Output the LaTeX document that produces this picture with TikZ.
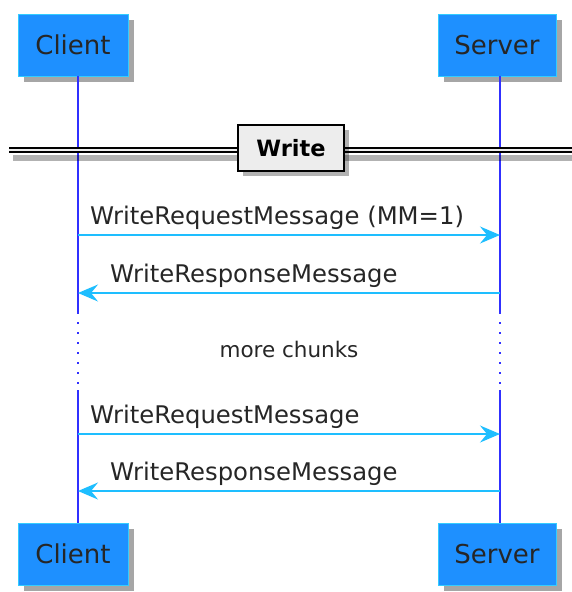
\documentclass[tikz,border=0pt]{standalone}
\usepackage{fontspec}
\setmainfont{DejaVu Sans}
\usepackage{tikz}
\usetikzlibrary{arrows.meta, positioning, shadows}
\definecolor{partblue}{HTML}{1E90FF}
\definecolor{partline}{HTML}{33CCFF}
\definecolor{lifeblue}{HTML}{3030FF}
\definecolor{msgblue}{HTML}{1EBEFF}
\tikzset{
    partnode/.style={rectangle, draw=partline, line width=0.8pt, fill=partblue, text=black!85, minimum height=62pt, inner xsep=6pt, font=\fontsize{26}{30}\selectfont, drop shadow={shadow xshift=6pt, shadow yshift=-6pt, fill=black, opacity=0.35}},
    divnode/.style={rectangle, draw=black, line width=2pt, fill=black!7, minimum width=106pt, minimum height=46pt, font=\fontsize{22.5}{26}\selectfont\bfseries, drop shadow={shadow xshift=5pt, shadow yshift=-5pt, fill=black, opacity=0.3}},
    msglabel/.style={font=\fontsize{24.3}{28}\selectfont, text=black!85, inner sep=0pt, anchor=base west},
    lifeline/.style={draw=lifeblue, line width=1.3pt},
    msg/.style={draw=msgblue, line width=1.3pt, -{Stealth[length=20pt, width=17pt, inset=7pt]}},
}
\begin{document}
\begin{tikzpicture}[x=1pt, y=-1pt]
    \useasboundingbox (0,0) rectangle (572,592);
    % participants
    \node[partnode, minimum width=110pt] (clientT) at (73,45) {Client};
    \node[partnode, minimum width=118pt] (serverT) at (497,45) {Server};
    \node[partnode, minimum width=110pt] (clientB) at (73,554) {Client};
    \node[partnode, minimum width=118pt] (serverB) at (497,554) {Server};
    % lifelines
    \coordinate (cA) at (clientT.south -| 78,0);
    \coordinate (sA) at (serverT.south -| 500,0);
    \coordinate (cB) at (78,312);
    \coordinate (cC) at (78,390);
    \coordinate (sB) at (500,312);
    \coordinate (sC) at (500,390);
    \coordinate (cD) at (clientB.north -| 78,0);
    \coordinate (sD) at (serverB.north -| 500,0);
    \draw[lifeline] (cA) -- (cB);
    \draw[lifeline, line width=2pt, dash pattern=on 2pt off 8pt] (cB) -- (cC);
    \draw[lifeline] (cC) -- (cD);
    \draw[lifeline] (sA) -- (sB);
    \draw[lifeline, line width=2pt, dash pattern=on 2pt off 8pt] (sB) -- (sC);
    \draw[lifeline] (sC) -- (sD);
    % divider
    \coordinate (dL) at (9,150);
    \coordinate (dR) at (572,150);
    \fill[black, opacity=0.3] (13,155) rectangle (572,161);
    \draw[black, line width=6.5pt] (dL) -- (dR);
    \draw[black!7, line width=2.5pt] (dL) -- (dR);
    \node[divnode] (write) at (291,148) {Write};
    % messages
    \coordinate (m1c) at (78,235);  \coordinate (m1s) at (500,235);
    \coordinate (m2c) at (78,293);  \coordinate (m2s) at (500,293);
    \coordinate (m3c) at (78,434);  \coordinate (m3s) at (500,434);
    \coordinate (m4c) at (78,491);  \coordinate (m4s) at (500,491);
    \draw[msg] (m1c) -- (m1s);
    \draw[msg] (m2s) -- (m2c);
    \draw[msg] (m3c) -- (m3s);
    \draw[msg] (m4s) -- (m4c);
    \node[msglabel] (l1) at (90,224) {WriteRequestMessage (MM=1)};
    \node[msglabel] (l2) at (110,282) {WriteResponseMessage};
    \node[msglabel] (l3) at (90,423) {WriteRequestMessage};
    \node[msglabel] (l4) at (110,480) {WriteResponseMessage};
    \node[font=\fontsize{21.5}{25}\selectfont, text=black!85, inner sep=0pt, anchor=base] (more) at (289,357) {more chunks};
\end{tikzpicture}
\end{document}
